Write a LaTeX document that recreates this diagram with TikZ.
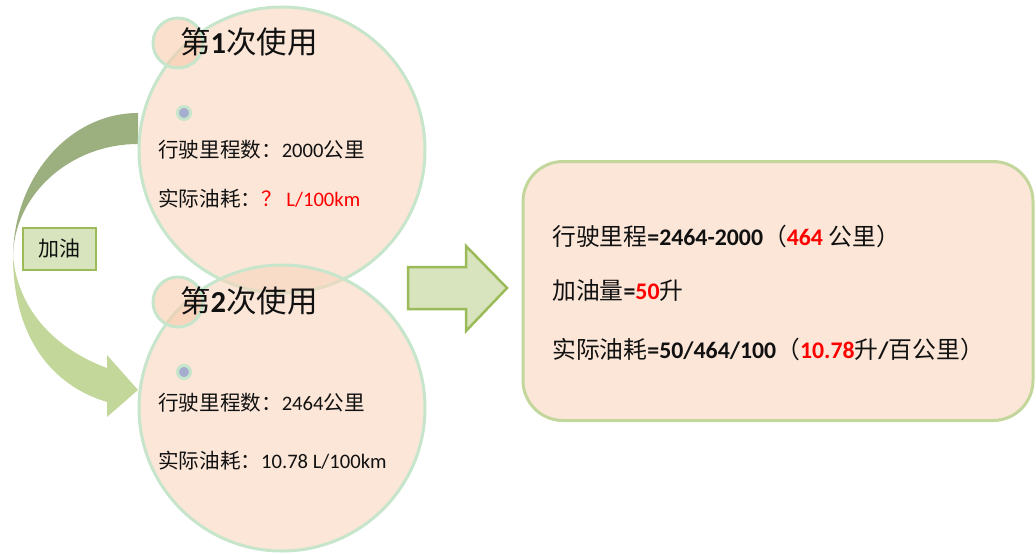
\documentclass[tikz,border=0pt]{standalone}
\usepackage{fontspec}
\setmainfont{Carlito}
\newfontfamily\cjk{Noto Sans CJK SC}
\definecolor{circfill}{HTML}{F8D5BE}
\definecolor{smallfill}{HTML}{F8CBAD}
\definecolor{circline}{HTML}{C6E5CB}
\definecolor{boxfill}{HTML}{FBE6D8}
\definecolor{boxline}{HTML}{C3D69B}
\definecolor{arrfill}{HTML}{D7E4BD}
\definecolor{arrline}{HTML}{9BBB59}
\definecolor{darkarr}{HTML}{9CAF7E}
\definecolor{lightarr}{HTML}{C4D79B}
\definecolor{dotfill}{HTML}{A6AECF}
\definecolor{txtcol}{HTML}{111111}
\definecolor{redtxt}{HTML}{FF0000}
\newcommand\zh[1]{{\cjk #1}}
\begin{document}
\begin{tikzpicture}[x=1pt,y=-1pt,
  bigcirc/.style={circle,inner sep=0pt,minimum size=286pt,fill=circfill,fill opacity=0.6,draw=circline,draw opacity=1,line width=3pt},
  smallcirc/.style={circle,inner sep=0pt,minimum size=50pt,fill=smallfill,fill opacity=0.6,draw=circline,draw opacity=1,line width=3pt},
  dotc/.style={circle,inner sep=0pt,minimum size=13pt,fill=dotfill,draw=circline,line width=3pt},
  titletxt/.style={anchor=west,inner sep=0pt,text=txtcol,font=\fontsize{30.5}{34}\selectfont},
  bodytxt/.style={anchor=west,inner sep=0pt,text=txtcol,font=\fontsize{20.6}{24}\selectfont},
  boxtxt/.style={anchor=west,inner sep=0pt,text=txtcol,font=\fontsize{23.8}{27}\selectfont},
  labelbox/.style={rectangle,inner sep=0pt,minimum width=73pt,minimum height=42pt,fill=arrfill,draw=arrline,line width=1.5pt,text=txtcol,font=\fontsize{21}{25}\selectfont\cjk},
  resbox/.style={rectangle,rounded corners=40pt,inner sep=0pt,minimum width=510pt,minimum height=259pt,fill=boxfill,draw=boxline,line width=3pt}
]
\useasboundingbox (0,0) rectangle (1036,554);

% curved arrow (shape)
\fill[darkarr] (138,113) .. controls (69,113) and (13,178) .. (13,258)
  .. controls (13,195) and (70,144) .. (138,144) -- cycle;
\fill[lightarr] (13,256) .. controls (13,335) and (50,385) .. (107,402)
  -- (107,417) -- (138,390) -- (107,355) -- (107,368)
  .. controls (58,350) and (18,312) .. (13,256) -- cycle;

% circle 1
\node[bigcirc] (c1) at (282,150) {};
\node[smallcirc] (s1) at (178,43) {};
\node[dotc] (d1) at (184,113) {};
% circle 2
\node[bigcirc] (c2) at (282,408) {};
\node[smallcirc] (s2) at (178,302) {};
\node[dotc] (d2) at (184,372) {};

\node[titletxt] (t1) at (180,42) {\zh{第}\textbf{1}\zh{次使用}};
\node[bodytxt] (t1a) at (158,150) {\zh{行驶里程数：}2000\zh{公里}};
\node[bodytxt] (t1b) at (158,199) {\zh{实际油耗：}\textcolor{redtxt}{\zh{？} L/100km}};

\node[titletxt] (t2) at (180,301) {\zh{第}\textbf{2}\zh{次使用}};
\node[bodytxt] (t2a) at (158,403) {\zh{行驶里程数：}2464\zh{公里}};
\node[bodytxt] (t2b) at (158,461) {\zh{实际油耗：}10.78 L/100km};

% label box
\node[labelbox] (jy) at (59.5,249) {加油};

% block arrow
\filldraw[fill=arrfill,draw=arrline,line width=2.5pt,line join=miter]
  (408,267) -- (466,267) -- (466,246) -- (507,288) -- (466,331) -- (466,309) -- (408,309) -- cycle;

% result box
\node[resbox] (rb) at (778,291) {};
\node[boxtxt] (r1) at (552,236) {\zh{行驶里程}\textbf{=2464-2000}\zh{（}\textcolor{redtxt}{\textbf{464}} \zh{公里）}};
\node[boxtxt] (r2) at (552,291) {\zh{加油量}\textbf{=}\textcolor{redtxt}{\textbf{50}}\zh{升}};
\node[boxtxt] (r3) at (552,349) {\zh{实际油耗}\textbf{=50/464/100}\zh{（}\textcolor{redtxt}{\textbf{10.78}}\zh{升}\textbf{/}\zh{百公里）}};
\end{tikzpicture}
\end{document}
